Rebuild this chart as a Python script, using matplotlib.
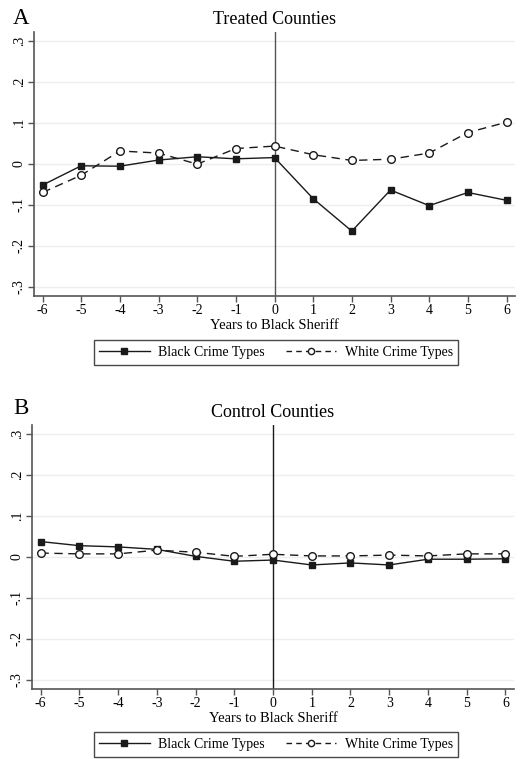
import matplotlib.pyplot as plt
from matplotlib.lines import Line2D

# years relative to the first black sheriff
years = [-6, -5, -4, -3, -2, -1, 0, 1, 2, 3, 4, 5, 6]

# panel A: treated counties
treated_black = [-0.052, -0.005, -0.006, 0.009, 0.017, 0.012, 0.015,
                 -0.085, -0.164, -0.064, -0.102, -0.070, -0.089]
treated_white = [-0.070, -0.028, 0.031, 0.026, -0.001, 0.037, 0.043,
                 0.022, 0.008, 0.011, 0.026, 0.076, 0.101]

# panel B: control counties
control_black = [0.037, 0.027, 0.024, 0.018, 0.001, -0.011, -0.008,
                 -0.020, -0.015, -0.020, -0.006, -0.006, -0.005]
control_white = [0.009, 0.007, 0.007, 0.016, 0.011, 0.001, 0.006,
                 0.002, 0.002, 0.004, 0.002, 0.007, 0.007]

yticks = [0.3, 0.2, 0.1, 0, -0.1, -0.2, -0.3]
ytick_labels = ['.3', '.2', '.1', '0', '-.1', '-.2', '-.3']

plt.rcParams['font.family'] = ['Liberation Serif', 'DejaVu Serif']


def draw_panel(ax, black, white, title, vcolor):
    ax.axvline(0, color=vcolor, lw=1.0, zorder=1)
    ax.plot(years, black, color='#1a1a1a', lw=1.0, marker='s', ms=5,
            mfc='#1a1a1a', mec='#1a1a1a', zorder=3)
    ax.plot(years, white, color='#1a1a1a', lw=1.0, ls=(0, (6, 4)),
            marker='o', ms=5.5, mfc='white', mec='#1a1a1a', mew=1.0, zorder=4)
    ax.set_xlim(-6.22, 6.22)
    ax.set_ylim(-0.322, 0.321)
    ax.set_xticks(years)
    ax.set_xticklabels([str(y) for y in years], fontsize=10)
    ax.set_yticks(yticks)
    ax.set_yticklabels(ytick_labels, fontsize=10, rotation=90, va='center')
    ax.yaxis.grid(True, color='#eeeeee', lw=1.0)
    ax.set_axisbelow(True)
    for s in ['top', 'right']:
        ax.spines[s].set_visible(False)
    for s in ['left', 'bottom']:
        ax.spines[s].set_color('#555555')
        ax.spines[s].set_linewidth(1.2)
    ax.tick_params(axis='both', direction='out', length=4, color='#555555',
                   width=1.0, pad=2)
    ax.set_xlabel('Years to Black Sheriff', fontsize=10.5, labelpad=1)
    ax.set_title(title, fontsize=13, pad=6)


fig = plt.figure(figsize=(5.2, 7.59), dpi=100)
ax1 = fig.add_axes([0.0654, 0.610, 0.925, 0.348])
ax2 = fig.add_axes([0.0615, 0.0922, 0.927, 0.348])

draw_panel(ax1, treated_black, treated_white, 'Treated Counties', '#555555')
draw_panel(ax2, control_black, control_white, 'Control Counties', '#1a1a1a')

# panel letters
fig.text(13 / 520, 1 - 24 / 759, 'A', fontsize=16.5, ha='left', va='baseline')
fig.text(13 / 520, 1 - 414 / 759, 'B', fontsize=16.5, ha='left', va='baseline')

handles = [
    Line2D([], [], color='#1a1a1a', lw=1.0, marker='s', ms=4,
           mfc='#1a1a1a', mec='#1a1a1a'),
    Line2D([], [], color='#1a1a1a', lw=1.0, ls=(0, (4, 3)), marker='o',
           ms=4.5, mfc='white', mec='#1a1a1a'),
]
labels = ['Black Crime Types', 'White Crime Types']

for yc in [0.5356, 0.0191]:
    leg = fig.legend(handles, labels, loc='center', bbox_to_anchor=(0.5306, yc),
                     ncol=2, fontsize=10, frameon=True, fancybox=False,
                     edgecolor='#1a1a1a', handlelength=3.65, numpoints=1,
                     columnspacing=1.5, handletextpad=0.6,
                     borderpad=0.4, borderaxespad=0)
    leg.get_frame().set_linewidth(1.0)

fig.savefig('out.png', dpi=100)
